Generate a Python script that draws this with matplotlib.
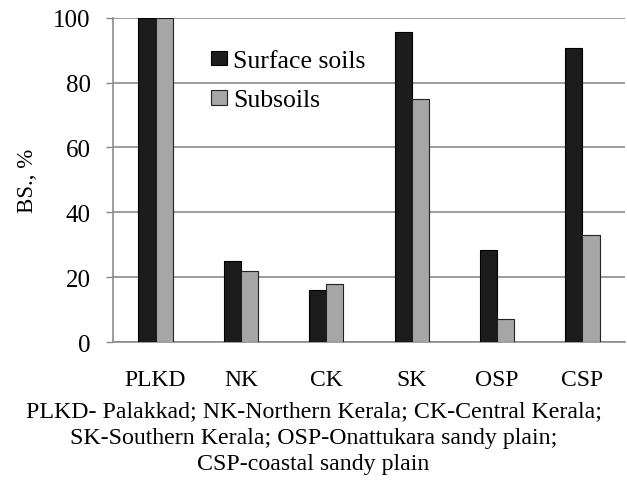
import matplotlib
matplotlib.use("Agg")
import matplotlib.pyplot as plt
import numpy as np

categories = ["PLKD", "NK", "CK", "SK", "OSP", "CSP"]
surface = [100, 25.2, 16.0, 95.5, 28.6, 90.5]
subsoil = [100, 21.9, 18.1, 75.0, 7.1, 33.0]
series_names = ["Surface soils", "Subsoils"]
y_ticks = [0, 20, 40, 60, 80, 100]
caption = ("PLKD- Palakkad; NK-Northern Kerala; CK-Central Kerala;\n"
           "SK-Southern Kerala; OSP-Onattukara sandy plain;\n"
           "CSP-coastal sandy plain")

plt.rcParams['font.family'] = ['Liberation Serif', 'DejaVu Serif']

fig = plt.figure(figsize=(6.27, 4.81), dpi=100)
ax = fig.add_axes([0.180, 0.286, 0.817, 0.6755])

x = np.arange(len(categories))
w = 0.2
ax.bar(x - w / 2, surface, w, color="#1c1c1c", edgecolor="#000000", linewidth=0.8,
       label=series_names[0], zorder=3)
ax.bar(x + w / 2, subsoil, w, color="#a6a6a6", edgecolor="#222222", linewidth=0.8,
       label=series_names[1], zorder=3)

ax.set_xlim(-0.5, len(categories) - 0.5)
ax.set_ylim(0, 100)
ax.set_yticks(y_ticks)
ax.set_yticklabels([str(t) for t in y_ticks], fontsize=18)
ax.set_xticks(x)
ax.set_xticklabels(categories, fontsize=17)
ax.tick_params(axis="x", length=0, pad=19)
ax.tick_params(axis="y", length=5, width=1, color="#888888", pad=11)

ax.yaxis.grid(True, color="#8c8c8c", linewidth=1.2, zorder=0)
ax.set_axisbelow(True)
for s in ["top", "right"]:
    ax.spines[s].set_visible(False)
ax.spines["left"].set_color("#8c8c8c")
ax.spines["left"].set_linewidth(1.2)
ax.spines["bottom"].set_color("#8c8c8c")
ax.spines["bottom"].set_linewidth(1.2)

ax.set_ylabel("BS., %", fontsize=16.5, labelpad=11)

leg = ax.legend(loc="upper left", bbox_to_anchor=(0.192, 0.90), frameon=False,
                fontsize=18.5, handlelength=0.6, handleheight=0.5,
                handletextpad=0.25, labelspacing=0.68, borderaxespad=0,
                borderpad=0)

fig.text(0.5, 0.089, caption, ha="center", va="center", fontsize=17.2,
         linespacing=1.34)

fig.savefig("out.png", dpi=100)
